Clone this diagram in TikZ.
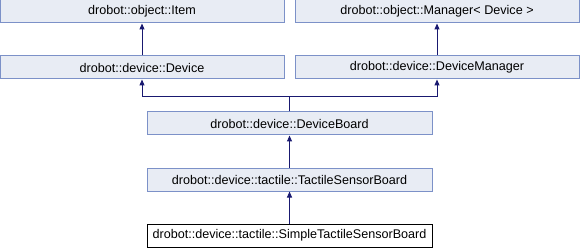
\documentclass[tikz,border=0pt]{standalone}
\usepackage{fontspec}
\setmainfont{Liberation Sans}
\usetikzlibrary{arrows.meta}
\definecolor{boxfill}{RGB}{232,236,244}
\definecolor{boxline}{RGB}{124,145,200}
\definecolor{edgeblue}{RGB}{25,25,112}
\begin{document}
\begin{tikzpicture}[x=1pt,y=-1pt,
  cls/.style={draw=boxline, fill=boxfill, line width=1pt, minimum height=23pt,
    inner sep=0pt, font=\fontsize{12.6}{14}\selectfont},
  cur/.style={cls, draw=black, fill=white},
  inh/.style={draw=edgeblue, line width=1pt, -{Stealth[length=6pt,width=5pt,inset=0pt]}}]
\useasboundingbox (0,0) rectangle (580,248);
\node[cls, minimum width=284pt] (item) at (142,11.5) {drobot::object::Item};
\node[cls, minimum width=284pt] (mgr) at (437,11.5) {drobot::object::Manager< Device >};
\node[cls, minimum width=284pt] (dev) at (142,67.5) {drobot::device::Device};
\node[cls, minimum width=284pt] (devmgr) at (437,67.5) {drobot::device::DeviceManager};
\node[cls, minimum width=285pt] (board) at (289.5,123.5) {drobot::device::DeviceBoard};
\node[cls, minimum width=285pt] (tactile) at (289.5,179.5) {drobot::device::tactile::TactileSensorBoard};
\node[cur, minimum width=285pt] (simple) at (289.5,235.5) {drobot::device::tactile::SimpleTactileSensorBoard};
\coordinate (junc) at (289.5,96.7);
\draw[inh] (dev.north) -- (item.south);
\draw[inh] (devmgr.north) -- (mgr.south);
\draw[inh] (board.north) -- (junc) -| (dev.south);
\draw[inh] (board.north) -- (junc) -| (devmgr.south);
\draw[inh] (tactile.north) -- (board.south);
\draw[inh] (simple.north) -- (tactile.south);
\end{tikzpicture}
\end{document}
